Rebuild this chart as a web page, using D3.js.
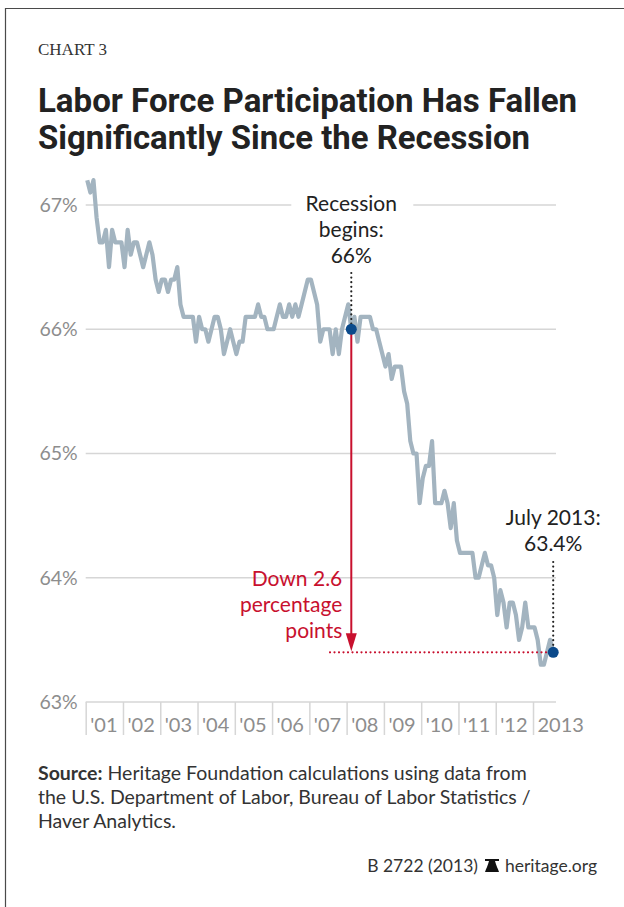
<!DOCTYPE html>
<html>
<head>
<meta charset="utf-8">
<script src="https://cdn.jsdelivr.net/npm/d3@7"></script>
<style>
  html, body { margin: 0; padding: 0; background: #fff; }
  svg { display: block; }
</style>
</head>
<body>
<div id="chart"></div>
<script>
// Monthly labor force participation rate (%), January 2001 through July 2013
const rate2001 = [67.2, 67.1, 67.2, 66.9, 66.7, 66.7, 66.8, 66.5, 66.8, 66.7, 66.7, 66.7];
const rate2002 = [66.5, 66.8, 66.6, 66.7, 66.7, 66.6, 66.5, 66.6, 66.7, 66.6, 66.4, 66.3];
const rate2003 = [66.4, 66.4, 66.3, 66.4, 66.4, 66.5, 66.2, 66.1, 66.1, 66.1, 66.1, 65.9];
const rate2004 = [66.1, 66.0, 66.0, 65.9, 66.0, 66.1, 66.1, 66.0, 65.8, 65.9, 66.0, 65.9];
const rate2005 = [65.8, 65.9, 65.9, 66.1, 66.1, 66.1, 66.1, 66.2, 66.1, 66.1, 66.0, 66.0];
const rate2006 = [66.0, 66.1, 66.2, 66.1, 66.1, 66.2, 66.1, 66.2, 66.1, 66.2, 66.3, 66.4];
const rate2007 = [66.4, 66.3, 66.2, 65.9, 66.0, 66.0, 66.0, 65.8, 66.0, 65.8, 66.0, 66.1];
const rate2008 = [66.2, 66.0, 66.1, 65.9, 66.1, 66.1, 66.1, 66.1, 66.0, 66.0, 65.9, 65.8];
const rate2009 = [65.7, 65.8, 65.6, 65.7, 65.7, 65.7, 65.5, 65.4, 65.1, 65.0, 65.0, 64.6];
const rate2010 = [64.8, 64.9, 64.9, 65.1, 64.6, 64.6, 64.6, 64.7, 64.6, 64.4, 64.6, 64.3];
const rate2011 = [64.2, 64.2, 64.2, 64.2, 64.2, 64.0, 64.0, 64.1, 64.2, 64.1, 64.1, 64.0];
const rate2012 = [63.7, 63.9, 63.8, 63.6, 63.8, 63.8, 63.7, 63.5, 63.6, 63.8, 63.6, 63.6];
const rate2013 = [63.6, 63.5, 63.3, 63.3, 63.4, 63.5, 63.4];

const yearLabels = ["'01", "'02", "'03", "'04", "'05", "'06", "'07", "'08", "'09", "'10", "'11", "'12", "2013"];
const yTicks = [63, 64, 65, 66, 67];

// Highlighted points: month index into the series and its rate
const recessionPoint = { month: 85, value: 66.0 };
const latestPoint = { month: 150, value: 63.4 };
const declinePts = 2.6;

const series = [].concat(rate2001, rate2002, rate2003, rate2004, rate2005, rate2006,
  rate2007, rate2008, rate2009, rate2010, rate2011, rate2012, rate2013)
  .map((v, i) => ({ month: i, value: v }));

const W = 624, H = 907;
const svg = d3.select("#chart").append("svg")
  .attr("width", W).attr("height", H);

const SANS = "Lato, 'Open Sans', sans-serif";

// Frame
svg.append("path")
  .attr("d", "M5.5,907 V8.5 H624")
  .attr("fill", "none").attr("stroke", "#4a4a4a").attr("stroke-width", 1.2);

// Heading
svg.append("text").attr("x", 38).attr("y", 55)
  .attr("font-family", "'Liberation Serif', 'DejaVu Serif', serif")
  .attr("font-size", 17).attr("fill", "#333")
  .text("CHART 3");

const titleLines = ["Labor Force Participation Has Fallen", "Significantly Since the Recession"];
const titleWidths = [539, 492];
titleLines.forEach((t, i) => {
  svg.append("text").attr("x", 38).attr("y", 112 + i * 37)
    .attr("font-family", "Roboto, 'Open Sans', sans-serif")
    .attr("font-weight", 700).attr("font-size", 34).attr("fill", "#222")
    .attr("textLength", titleWidths[i]).attr("lengthAdjust", "spacingAndGlyphs")
    .text(t);
});

// Scales
const x = d3.scaleLinear().domain([-0.5, 150.9]).range([85.7, 556]);
const y = d3.scaleLinear().domain([63, 67]).range([702, 205]);

// Grid lines and y labels
const grid = svg.append("g");
grid.selectAll("line").data(yTicks).join("line")
  .attr("x1", x(-0.5)).attr("x2", x(150.9))
  .attr("y1", d => y(d)).attr("y2", d => y(d))
  .attr("stroke", "#d6d6d6").attr("stroke-width", 1.5);

const yAxis = d3.axisLeft(y).tickValues(yTicks).tickFormat(d => d + "%").tickSize(0).tickPadding(8);
svg.append("g").attr("transform", `translate(${x(-0.5)},0)`).call(yAxis)
  .call(g => g.select(".domain").remove())
  .call(g => g.selectAll("text")
    .attr("font-family", SANS).attr("font-size", 19.5).attr("fill", "#8d8d8d"));

// X axis: year boundaries with labels placed just right of each boundary
const yearStarts = yearLabels.map((_, k) => 12 * k - 0.5);
const xAxis = d3.axisBottom(x).tickValues(yearStarts)
  .tickFormat((d, i) => yearLabels[i]).tickSize(33).tickPadding(0);
svg.append("g").attr("transform", `translate(0,${y(63)})`).call(xAxis)
  .call(g => g.select(".domain").remove())
  .call(g => g.selectAll(".tick line").attr("stroke", "#d6d6d6").attr("stroke-width", 1.5))
  .call(g => g.selectAll(".tick text")
    .attr("font-family", SANS).attr("font-size", 20).attr("fill", "#8d8d8d")
    .attr("text-anchor", "start").attr("x", 4).attr("y", 16).attr("dy", "0.71em"));

// Label for the recession point, masking the grid behind it
const rx = x(recessionPoint.month);
svg.append("rect").attr("x", rx - 60).attr("y", 192).attr("width", 122).attr("height", 80)
  .attr("fill", "#fff");
const recLabel = ["Recession", "begins:", recessionPoint.value.toFixed(0) + "%"];
recLabel.forEach((t, i) => {
  svg.append("text").attr("x", rx).attr("y", 211 + i * 26)
    .attr("text-anchor", "middle").attr("font-family", SANS)
    .attr("font-size", 21).attr("fill", "#222").text(t);
});

// Series line
svg.append("path").datum(series)
  .attr("fill", "none").attr("stroke", "#a3b4c0").attr("stroke-width", 4.2)
  .attr("stroke-linejoin", "round")
  .attr("d", d3.line().x(d => x(d.month)).y(d => y(d.value)));

// Dotted leaders from labels to points
const leader = (x0, y0, y1) => svg.append("line")
  .attr("x1", x0).attr("x2", x0).attr("y1", y0).attr("y2", y1)
  .attr("stroke", "#222").attr("stroke-width", 2.2)
  .attr("stroke-linecap", "round").attr("stroke-dasharray", "0,4.6");
leader(rx, 273, y(recessionPoint.value) - 4);

const lx = x(latestPoint.month);
const ly = y(latestPoint.value);
leader(lx, 562, ly - 4);

// Red decline arrow and dotted reference at the latest level
const red = "#c8102e";
svg.append("line").attr("x1", rx).attr("x2", rx)
  .attr("y1", y(recessionPoint.value)).attr("y2", ly - 16)
  .attr("stroke", red).attr("stroke-width", 2);
svg.append("path")
  .attr("d", `M${rx - 5.5},${ly - 19} L${rx + 5.5},${ly - 19} L${rx},${ly - 1} Z`)
  .attr("fill", red);
svg.append("line").attr("x1", 330).attr("x2", lx).attr("y1", ly).attr("y2", ly)
  .attr("stroke", red).attr("stroke-width", 2.2)
  .attr("stroke-linecap", "round").attr("stroke-dasharray", "0,4.5");

const downLabel = ["Down " + declinePts, "percentage", "points"];
downLabel.forEach((t, i) => {
  svg.append("text").attr("x", rx - 9).attr("y", 586 + i * 26)
    .attr("text-anchor", "end").attr("font-family", SANS)
    .attr("font-size", 21).attr("fill", red).text(t);
});

const julLabel = ["July 2013:", latestPoint.value.toFixed(1) + "%"];
julLabel.forEach((t, i) => {
  svg.append("text").attr("x", lx).attr("y", 525 + i * 26)
    .attr("text-anchor", "middle").attr("font-family", SANS)
    .attr("font-size", 21).attr("fill", "#222").text(t);
});

// Point markers
svg.selectAll("circle.pt").data([recessionPoint, latestPoint]).join("circle")
  .attr("class", "pt")
  .attr("cx", d => x(d.month)).attr("cy", d => y(d.value)).attr("r", 5.5)
  .attr("fill", "#0b4a8b");

// Source note
const src = svg.append("g").attr("font-family", SANS).attr("font-size", 19.5).attr("fill", "#333");
const s1 = src.append("text").attr("x", 38).attr("y", 780);
s1.append("tspan").attr("font-weight", 700).text("Source:");
s1.append("tspan").text(" Heritage Foundation calculations using data from");
src.append("text").attr("x", 38).attr("y", 804)
  .text("the U.S. Department of Labor, Bureau of Labor Statistics /");
src.append("text").attr("x", 38).attr("y", 828).text("Haver Analytics.");

// Footer with bell mark
const foot = svg.append("g").attr("font-family", SANS).attr("font-size", 17.5).attr("fill", "#333");
foot.append("text").attr("x", 597).attr("y", 872).attr("text-anchor", "end").text("heritage.org");
foot.append("text").attr("x", 478).attr("y", 872).attr("text-anchor", "end").text("B 2722 (2013)");
const bx = 492, by = 859;
foot.append("path")
  .attr("d", `M${bx - 7},${by} H${bx + 7} V${by + 2} H${bx + 3} C${bx + 4},${by + 6} ${bx + 6},${by + 10} ${bx + 7},${by + 13} H${bx - 7} C${bx - 6},${by + 10} ${bx - 4},${by + 6} ${bx - 3},${by + 2} H${bx - 7} Z`)
  .attr("fill", "#111");
</script>
</body>
</html>
